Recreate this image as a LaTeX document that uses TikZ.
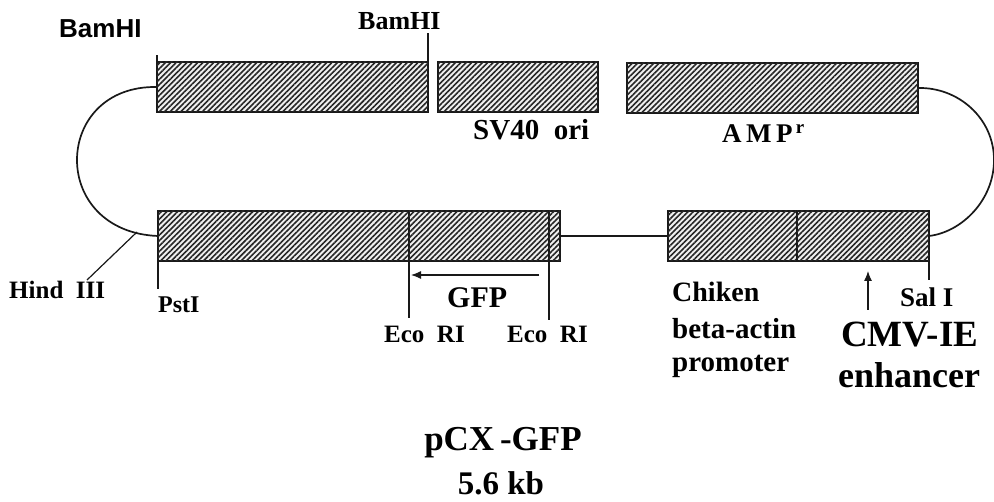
\documentclass[tikz,border=0pt]{standalone}
\usepackage{fontspec}
\setmainfont{Liberation Serif}
\newfontfamily\arialf{Liberation Sans}
\usetikzlibrary{arrows.meta,positioning,patterns.meta}

\begin{document}
\begin{tikzpicture}[x=1pt,y=-1pt,
  caja/.style={draw=black!90,line width=1.7pt,fill=gray!12,inner sep=0pt,outer sep=0pt,
               minimum height=50pt,anchor=north west,
               postaction={pattern={Lines[angle=45,distance=3.8pt,line width=1.6pt]},pattern color=black!85}},
  hilo/.style={line width=1.7pt,black!90},
  corte/.style={line width=1.2pt,black!90},
  fl/.style={-{Latex[length=10pt,width=8pt]},line width=1.2pt,black!90},
  et/.style={font=\bfseries\fontsize{25}{27}\selectfont,inner sep=0pt,anchor=base west},
  ch/.style={et,font=\bfseries\fontsize{29}{31}\selectfont}]

  \useasboundingbox (0,0) rectangle (994,502);

  % fila de arriba
  \node[caja,minimum width=271pt] (bam) at (157,62) {};
  \node[caja,minimum width=160pt] (sv)  at (438,62) {};
  \node[caja,minimum width=291pt] (amp) at (627,63) {};

  % fila de abajo
  \node[caja,minimum width=251pt] (pst) at (158,211) {};
  \node[caja,minimum width=140pt,right=0pt of pst] (gfp) {};
  \node[caja,minimum width=11pt,right=0pt of gfp]  (fin) {};
  \node[caja,minimum width=129pt] (act) at (668,211) {};
  \node[caja,minimum width=132pt,right=0pt of act] (cmv) {};

  % plasmido
  \draw[hilo] (bam.west) .. controls (105,86) and (77,122) .. (77,160)
    .. controls (77,198) and (105,234) .. (pst.west);
  \draw[hilo] (amp.east) .. controls (958,87) and (994,118) .. (994,160)
    .. controls (994,200) and (962,232) .. (cmv.east);
  \draw[hilo] (fin.east) -- (act.west);

  % sitios
  \coordinate (t1) at (157,55);  \coordinate (t2) at (428,33);
  \coordinate (t3) at (158,289); \coordinate (t4) at (409,318);
  \coordinate (t5) at (549,320); \coordinate (t6) at (929,280);
  \coordinate (h1) at (137,232); \coordinate (h2) at (87,280);
  \draw[corte] (bam.north west) -- (t1);
  \draw[corte] (bam.north east) -- (t2);
  \draw[corte] (pst.south west) -- (t3);
  \draw[corte] (pst.south east) -- (t4);
  \draw[corte] (gfp.south east) -- (t5);
  \draw[corte] (cmv.south east) -- (t6);
  \draw[corte] (h1) -- (h2);

  % flechas
  \coordinate (g1) at (539,275); \coordinate (g2) at (411,275);
  \coordinate (c1) at (868,310); \coordinate (c2) at (868,271);
  \draw[fl] (g1) -- (g2);
  \draw[fl] (c1) -- (c2);

  % etiquetas
  \node[et,font=\arialf\bfseries\fontsize{26}{28}\selectfont] (lbam1) at (59,38) {BamHI};
  \node[et,font=\bfseries\fontsize{26}{28}\selectfont] (lbam2) at (358,30) {BamHI};
  \node[et] (lhind) at (9,299) {Hind\ \ III};
  \node[et,font=\bfseries\fontsize{24}{26}\selectfont] (lpst)  at (158,313) {PstI};
  \node[et] (leco1) at (384,343) {Eco\ \ RI};
  \node[et] (leco2) at (507,343) {Eco\ \ RI};
  \node[ch,font=\bfseries\fontsize{30}{32}\selectfont] (lgfp) at (447,308) {GFP};
  \node[ch] (lsv) at (473,140) {SV40\ \ ori};
  \node[ch,font=\bfseries\fontsize{27}{29}\selectfont] (lamp) at (722,143) {A\,M\,P\textsuperscript{\,r}};
  \node[ch,font=\bfseries\fontsize{28}{30}\selectfont] (lchi) at (672,302) {Chiken};
  \node[ch] (lbet) at (672,339) {beta-actin};
  \node[ch] (lpro) at (672,372) {promoter};
  \node[et,font=\bfseries\fontsize{27}{29}\selectfont] (lsal) at (900,307) {Sal\ I};
  \node[et,font=\bfseries\fontsize{37}{39}\selectfont] (lcmv) at (841,347) {CMV-IE};
  \node[et,font=\bfseries\fontsize{36}{38}\selectfont] (lenh) at (838,388) {enhancer};
  \node[et,font=\bfseries\fontsize{35}{37}\selectfont,anchor=base] (lpcx) at (503,451) {pCX\,-GFP};
  \node[et,font=\bfseries\fontsize{33}{35}\selectfont,anchor=base] (lkb) at (501,495) {5.6 kb};
\end{tikzpicture}
\end{document}
